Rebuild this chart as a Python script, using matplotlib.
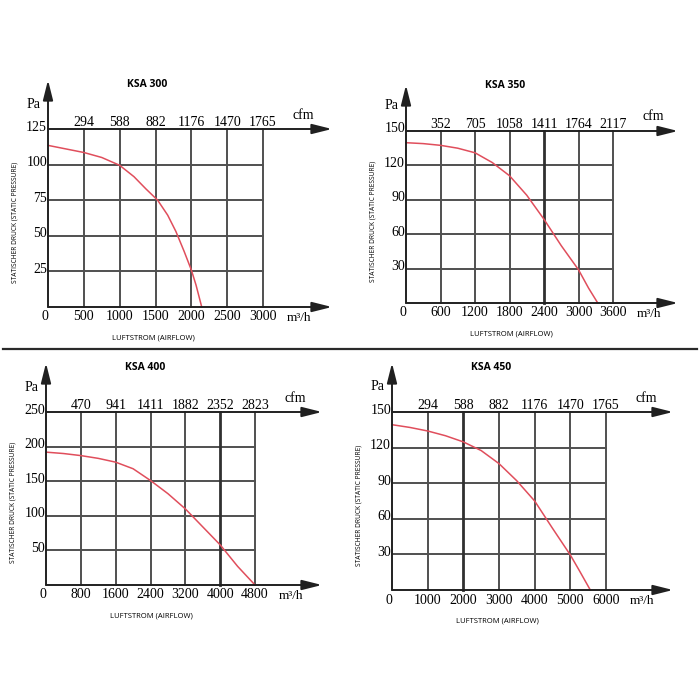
import matplotlib
matplotlib.use('Agg')
import matplotlib.pyplot as plt
from matplotlib.lines import Line2D

# Fan curves: static pressure (Pa) vs airflow (m3/h)
titles = ['KSA 300', 'KSA 350', 'KSA 400', 'KSA 450']

ksa300_flow = [0, 250, 500, 750, 1000, 1200, 1365, 1530, 1670, 1785, 1900, 2000, 2065, 2145]
ksa300_pa = [113.5, 111, 108.5, 105, 99.5, 91.5, 83, 75, 64.5, 53, 39, 26, 15.5, 0]
ksa350_flow = [0, 300, 600, 900, 1200, 1500, 1800, 2100, 2400, 2700, 3000, 3175, 3335]
ksa350_pa = [139.8, 139, 137.5, 135, 131, 122.5, 111, 94, 73, 50, 29, 13, 0]
ksa400_flow = [0, 400, 800, 1200, 1600, 2000, 2400, 2800, 3200, 3600, 4000, 4400, 4800]
ksa400_pa = [192, 190, 187, 183, 177.5, 168, 151, 132, 110, 84, 58, 27, 0]
ksa450_flow = [0, 500, 1000, 1500, 2000, 2500, 3000, 3500, 4000, 4500, 5000, 5250, 5560]
ksa450_pa = [139.3, 137, 134, 130, 124.8, 117.5, 106.5, 92, 75, 52, 29.5, 16.5, 0]

# axis ticks (m3/h at bottom, cfm on top, Pa on the left)
ksa300_xticks = [500, 1000, 1500, 2000, 2500, 3000]
ksa300_cfm = ['294', '588', '882', '1176', '1470', '1765']
ksa300_yticks = [25, 50, 75, 100, 125]
ksa350_xticks = [600, 1200, 1800, 2400, 3000, 3600]
ksa350_cfm = ['352', '705', '1058', '1411', '1764', '2117']
ksa350_yticks = [30, 60, 90, 120, 150]
ksa400_xticks = [800, 1600, 2400, 3200, 4000, 4800]
ksa400_cfm = ['470', '941', '1411', '1882', '2352', '2823']
ksa400_yticks = [50, 100, 150, 200, 250]
ksa450_xticks = [1000, 2000, 3000, 4000, 5000, 6000]
ksa450_cfm = ['294', '588', '882', '1176', '1470', '1765']
ksa450_yticks = [30, 60, 90, 120, 150]

serif = 'Liberation Serif'
sans = 'Open Sans'
grid_col = '#505050'
curve_col = '#e04e5c'

fig = plt.figure(figsize=(7, 7), dpi=100)
fig.patch.set_facecolor('white')

# pixel boxes of each grid: left, right, top, bottom, arrow right end, arrow top end, darker vline
panels = [
    (48, 263, 129, 307, 332, 80, None, ksa300_flow, ksa300_pa, ksa300_xticks, ksa300_cfm, ksa300_yticks),
    (406, 613, 131, 303, 678, 85, 2400, ksa350_flow, ksa350_pa, ksa350_xticks, ksa350_cfm, ksa350_yticks),
    (46, 255, 412, 585, 322, 363, 4000, ksa400_flow, ksa400_pa, ksa400_xticks, ksa400_cfm, ksa400_yticks),
    (392, 606, 412, 590, 673, 363, 2000, ksa450_flow, ksa450_pa, ksa450_xticks, ksa450_cfm, ksa450_yticks),
]

for i, (x0, x1, yt, yb, ax_r, ax_t, dark, flow, pa, xt, cfm, yticks) in enumerate(panels):
    ax = fig.add_axes([x0 / 700, 1 - yb / 700, (x1 - x0) / 700, (yb - yt) / 700])
    xmax = xt[-1]
    ymax = yticks[-1]
    ax.set_xlim(0, xmax)
    ax.set_ylim(0, ymax)
    ax.axis('off')

    # grid
    for y in yticks[:-1]:
        ax.plot([0, xmax], [y, y], color=grid_col, lw=1.4, clip_on=False)
    for x in xt:
        lw = 2.0 if x == dark else 1.4
        col = '#303030' if x == dark else grid_col
        ax.plot([x, x], [0, ymax], color=col, lw=lw, clip_on=False)

    # axes with arrows
    rx = (ax_r - x0) / (x1 - x0)
    ty = (yb - ax_t) / (yb - yt)
    arrow = dict(arrowstyle='-|>,head_length=1.2,head_width=0.3', color='#202020',
                 lw=1.4, mutation_scale=10, shrinkA=0, shrinkB=0)
    ax.annotate('', xy=(rx, 0), xytext=(0, 0), xycoords='axes fraction', arrowprops=arrow)
    ax.annotate('', xy=(rx, 1), xytext=(0, 1), xycoords='axes fraction', arrowprops=arrow)
    ax.annotate('', xy=(0, ty), xytext=(0, 0), xycoords='axes fraction', arrowprops=arrow)

    # curve
    ax.plot(flow, pa, color=curve_col, lw=1.1, clip_on=False)

    # tick labels
    for y in yticks:
        ax.annotate(str(y), xy=(0, y), xytext=(-1, 2), textcoords='offset pixels',
                    ha='right', va='center', fontsize=10, family=serif)
    ax.annotate('0', xy=(0, 0), xytext=(-3, -10), textcoords='offset pixels',
                ha='center', va='center', fontsize=10, family=serif)
    for x, c in zip(xt, cfm):
        ax.annotate(str(x), xy=(x, 0), xytext=(0, -10), textcoords='offset pixels',
                    ha='center', va='center', fontsize=10, family=serif)
        ax.annotate(c, xy=(x, ymax), xytext=(0, 3), textcoords='offset pixels',
                    ha='center', va='baseline', fontsize=10, family=serif)

    # unit labels
    ax.annotate('Pa', xy=(0, ymax), xytext=(-14, 25), textcoords='offset pixels',
                ha='center', va='center', fontsize=10, family=serif)
    ax.annotate('cfm', xy=(xmax, ymax), xytext=(40, 14), textcoords='offset pixels',
                ha='center', va='center', fontsize=10, family=serif)
    ax.annotate('m³/h', xy=(xmax, 0), xytext=(36, -11), textcoords='offset pixels',
                ha='center', va='center', fontsize=9.5, family=serif)

    ax.annotate(titles[i], xy=(0, ymax), xytext=(79, 45), textcoords='offset pixels',
                ha='left', va='center', fontsize=7.5, fontweight='bold', family=sans)
    ax.annotate('LUFTSTROM (AIRFLOW)', xy=(0, 0), xytext=(105, -31), textcoords='offset pixels',
                ha='center', va='center', fontsize=5.5, family=sans)
    ax.annotate('STATISCHER DRUCK (STATIC PRESSURE)', xy=(0, ymax / 2), xytext=(-33, -4),
                textcoords='offset pixels', ha='center', va='center', rotation=90,
                fontsize=4.8, family=sans)

# separator between the two rows
fig.add_artist(Line2D([3 / 700, 697 / 700], [1 - 349 / 700, 1 - 349 / 700],
                      color='#2a2a2a', lw=1.6))

fig.savefig('out.png', dpi=100)
